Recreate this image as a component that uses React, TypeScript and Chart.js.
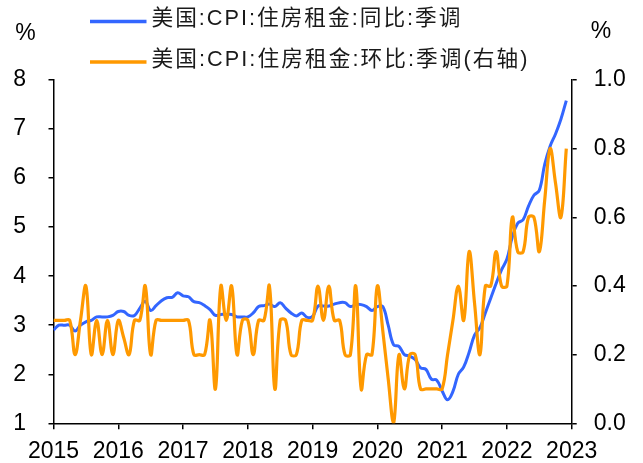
import React, { useEffect, useRef } from 'react';
import { Chart, registerables } from 'chart.js';

Chart.register(...registerables);

const START_YEAR = 2015;
const END_YEAR = 2023;

// 美国:CPI:住房租金:同比:季调 (left axis, %), monthly from 2015-01
const yoyValues = [
  2.9, 3.0, 3.0, 3.0, 2.88, 3.0, 3.07, 3.1, 3.17, 3.17, 3.17, 3.2,
  3.28, 3.28, 3.2, 3.2, 3.35, 3.49, 3.3, 3.4, 3.5, 3.56, 3.57, 3.66,
  3.6, 3.58, 3.48, 3.46, 3.4, 3.32, 3.2, 3.22, 3.22, 3.22, 3.17, 3.17,
  3.17, 3.25, 3.38, 3.4, 3.43, 3.38, 3.46, 3.35, 3.25, 3.19, 3.25, 3.16,
  3.18, 3.39, 3.39, 3.39, 3.43, 3.46, 3.46, 3.38, 3.42, 3.42, 3.38, 3.3,
  3.38, 3.38, 3.0, 2.6, 2.57, 2.4, 2.37, 2.3, 2.13, 2.1, 1.9, 1.88,
  1.66, 1.48, 1.65, 2.0, 2.15, 2.45, 2.8, 2.95, 3.25, 3.55, 3.85, 4.13,
  4.35, 4.8, 5.08, 5.15, 5.43, 5.65, 5.75, 6.28, 6.65, 6.9, 7.2, 7.58,
];

// 美国:CPI:住房租金:环比:季调 (right axis, %), monthly from 2015-01
const momValues = [
  0.3, 0.3, 0.3, 0.3, 0.2, 0.3, 0.4, 0.2, 0.3, 0.2, 0.3, 0.2,
  0.3, 0.25, 0.2, 0.3, 0.3, 0.4, 0.2, 0.3, 0.3, 0.3, 0.3, 0.3,
  0.3, 0.3, 0.2, 0.2, 0.2, 0.3, 0.1, 0.4, 0.3, 0.4, 0.2, 0.3,
  0.3, 0.2, 0.3, 0.3, 0.4, 0.1, 0.3, 0.3, 0.2, 0.2, 0.3, 0.3,
  0.3, 0.4, 0.3, 0.4, 0.3, 0.3, 0.2, 0.2, 0.4, 0.1, 0.2, 0.2,
  0.4, 0.27, 0.13, 0.0, 0.2, 0.1, 0.2, 0.2, 0.1, 0.1, 0.1, 0.1,
  0.1, 0.2, 0.3, 0.4, 0.3, 0.5, 0.35, 0.2, 0.4, 0.4, 0.5, 0.4,
  0.4, 0.6, 0.5, 0.5, 0.6, 0.6, 0.5, 0.65, 0.8, 0.7, 0.6, 0.8,
];

const legendLabels = [
  '美国:CPI:住房租金:同比:季调',
  '美国:CPI:住房租金:环比:季调(右轴)',
];
const unitLabel = '%';

const BLUE = '#3366FF';
const ORANGE = '#FF9900';
const TICK_FONT = { family: "'Liberation Sans', Arial, sans-serif", size: 23 };

const overlayPlugin = {
  id: 'overlay',
  afterDraw(chart: any) {
    const ctx = chart.ctx;
    ctx.save();
    ctx.fillStyle = '#000';
    ctx.textAlign = 'center';
    ctx.textBaseline = 'middle';
    ctx.font = "23px 'Liberation Sans', Arial, sans-serif";
    ctx.fillText(unitLabel, 25.5, 34);
    ctx.fillText(unitLabel, 601, 32);

    const colors = [BLUE, ORANGE];
    const rowsY = [19.5, 60];
    const targetWidths = [311, 378];
    ctx.font = "21.7px 'Liberation Sans', 'Noto Sans CJK SC', sans-serif";
    ctx.textAlign = 'left';
    legendLabels.forEach((label, i) => {
      ctx.strokeStyle = colors[i];
      ctx.lineWidth = 3.5;
      ctx.lineCap = 'butt';
      ctx.beginPath();
      ctx.moveTo(90, rowsY[i] + 2);
      ctx.lineTo(146.5, rowsY[i] + 2);
      ctx.stroke();
      ctx.fillStyle = '#1a1a1a';
      (ctx as any).letterSpacing = '0px';
      const w = ctx.measureText(label).width;
      const n = Array.from(label).length;
      const ls = Math.max(0, (targetWidths[i] - w) / n);
      (ctx as any).letterSpacing = ls.toFixed(2) + 'px';
      ctx.fillText(label, 151.5, rowsY[i]);
    });
    (ctx as any).letterSpacing = '0px';
    ctx.restore();
  },
};

export default function App() {
  const canvasRef = useRef<HTMLCanvasElement | null>(null);

  useEffect(() => {
    document.body.style.margin = '0';
    const canvas = canvasRef.current;
    if (!canvas) return;

    const yoyData = yoyValues.map((v, i) => ({ x: i, y: v }));
    const momData = momValues.map((v, i) => ({ x: i, y: v }));

    const chart = new Chart(canvas, {
      type: 'line',
      data: {
        datasets: [
          {
            label: legendLabels[0],
            data: yoyData,
            borderColor: BLUE,
            backgroundColor: BLUE,
            borderWidth: 3,
            pointRadius: 0,
            tension: 0.4,
            yAxisID: 'yLeft',
            order: 1,
          },
          {
            label: legendLabels[1],
            data: momData,
            borderColor: ORANGE,
            backgroundColor: ORANGE,
            borderWidth: 3.2,
            pointRadius: 0,
            tension: 0.4,
            yAxisID: 'yRight',
            order: 0,
          },
        ],
      },
      options: {
        responsive: false,
        animation: false,
        devicePixelRatio: 1,
        layout: { padding: { top: 80, left: 0, right: 0, bottom: 0 } },
        plugins: {
          legend: { display: false },
          tooltip: { enabled: false },
          title: { display: false },
        },
        scales: {
          x: {
            type: 'linear',
            min: 0,
            max: (END_YEAR - START_YEAR) * 12,
            ticks: {
              stepSize: 12,
              color: '#000',
              font: TICK_FONT,
              padding: 9,
              maxRotation: 0,
              autoSkip: false,
              callback: (v: any) => String(START_YEAR + Math.round(Number(v) / 12)),
            },
            grid: {
              drawOnChartArea: false,
              drawTicks: true,
              tickLength: 6,
              color: '#000',
              lineWidth: 1.5,
            },
            border: { display: true, color: '#000', width: 1.5 },
            afterFit: (scale: any) => {
              scale.height = 39.7;
            },
          },
          yLeft: {
            type: 'linear',
            position: 'left',
            min: 1,
            max: 8,
            ticks: {
              stepSize: 1,
              color: '#000',
              font: TICK_FONT,
              padding: 22.5,
            },
            grid: {
              drawOnChartArea: false,
              drawTicks: true,
              tickLength: 5,
              color: '#000',
              lineWidth: 1.5,
            },
            border: { display: true, color: '#000', width: 1.5 },
            afterFit: (scale: any) => {
              scale.width = 53.5;
            },
          },
          yRight: {
            type: 'linear',
            position: 'right',
            min: 0,
            max: 1,
            ticks: {
              stepSize: 0.2,
              color: '#000',
              font: TICK_FONT,
              padding: 17,
              callback: (v: any) => Number(v).toFixed(1),
            },
            grid: {
              drawOnChartArea: false,
              drawTicks: true,
              tickLength: 5,
              color: '#000',
              lineWidth: 1.5,
            },
            border: { display: true, color: '#000', width: 1.5 },
            afterFit: (scale: any) => {
              scale.width = 643 - 571.7;
            },
          },
        },
      },
      plugins: [overlayPlugin],
    });

    return () => {
      chart.destroy();
    };
  }, []);

  return (
    <div style={{ width: 643, height: 463, background: '#fff' }}>
      <canvas ref={canvasRef} width={643} height={463} style={{ display: 'block' }} />
    </div>
  );
}
